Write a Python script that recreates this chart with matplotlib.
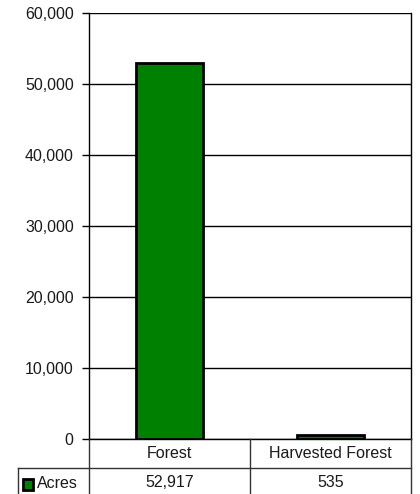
import numpy as np
import matplotlib.pyplot as plt
from matplotlib.lines import Line2D
from matplotlib.patches import Rectangle

categories = ['Forest', 'Harvested Forest']
acres = [52917, 535]
series_name = 'Acres'
yticks = [0, 10000, 20000, 30000, 40000, 50000, 60000]

plt.rcParams['font.family'] = ['Liberation Sans', 'DejaVu Sans']
fs = 11.5
tc = '#1a1a1a'

W, H = 420, 494
fig = plt.figure(figsize=(W / 100, H / 100), dpi=100)
x0, x1, y0, y1 = 89, 411, 439, 13
ax = fig.add_axes([x0 / W, 1 - y0 / H, (x1 - x0) / W, (y0 - y1) / H])

x = np.arange(len(categories))
ax.bar(x, acres, width=0.41, color='#008000', edgecolor='black', linewidth=2, zorder=3)
ax.set_xlim(-0.5, len(categories) - 0.5)
ax.set_ylim(0, 60000)
ax.set_yticks(yticks)
ax.set_yticklabels([f'{v:,}' for v in yticks], fontsize=fs, color=tc)
ax.tick_params(axis='y', length=5, width=1, pad=6)
ax.set_xticks([])
ax.grid(axis='y', color='black', linewidth=1, zorder=0)
for s in ['left', 'right']:
    ax.spines[s].set_linewidth(1)
ax.spines['top'].set_visible(False)
ax.spines['bottom'].set_linewidth(1)

# data table below the plot
row1, row2, row3 = 439, 468, 497
col_edges = [x0 + (x1 - x0) * i / len(categories) for i in range(len(categories) + 1)]
lc = '#333333'
def fx(px):
    return px / W
def fy(py):
    return 1 - py / H
for cx in col_edges:
    fig.add_artist(Line2D([fx(cx)] * 2, [fy(row1), fy(row3)], color=lc, lw=1))
fig.add_artist(Line2D([fx(18), fx(18)], [fy(row2), fy(row3)], color=lc, lw=1))
fig.add_artist(Line2D([fx(18), fx(x1)], [fy(row2), fy(row2)], color=lc, lw=1))
for i, (c, v) in enumerate(zip(categories, acres)):
    cx = (col_edges[i] + col_edges[i + 1]) / 2
    fig.text(fx(cx), fy(453), c, ha='center', va='center', fontsize=fs, color=tc)
    fig.text(fx(cx), fy(482), f'{v:,}', ha='center', va='center', fontsize=fs, color=tc)
fig.add_artist(Rectangle((fx(22.5), fy(489.5)), 10.5 / W, 11 / H, facecolor='#008000',
                         edgecolor='black', linewidth=2))
fig.text(fx(36.5), fy(483), series_name, ha='left', va='center', fontsize=fs, color=tc)

fig.savefig('out.png', dpi=100)
